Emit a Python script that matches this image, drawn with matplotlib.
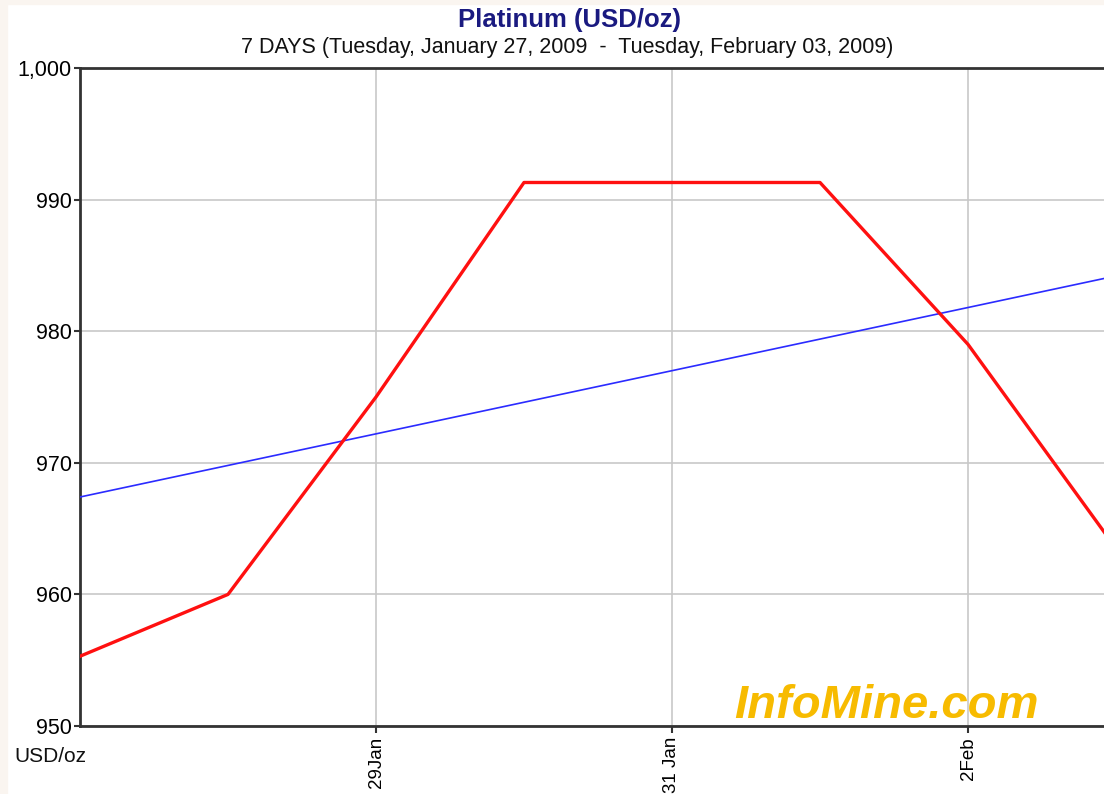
import numpy as np
import matplotlib.pyplot as plt
import matplotlib.dates as mdates
from matplotlib.ticker import FuncFormatter
from matplotlib.patches import Rectangle
from datetime import datetime

# daily platinum prices (USD/oz)
dates = ["2009-01-27", "2009-01-28", "2009-01-29", "2009-01-30",
         "2009-01-31", "2009-02-01", "2009-02-02", "2009-02-03"]
prices = [955.3, 960.0, 975.0, 991.3, 991.3, 991.3, 979.0, 963.5]

# trend line end points
trend_dates = ["2009-01-27", "2009-02-03"]
trend_vals = [967.4, 984.2]

tick_dates = ["2009-01-29", "2009-01-31", "2009-02-02"]
tick_labels = ["29Jan", "31 Jan", "2Feb"]

d = [datetime.strptime(s, "%Y-%m-%d") for s in dates]
td = [datetime.strptime(s, "%Y-%m-%d") for s in trend_dates]
xt = [datetime.strptime(s, "%Y-%m-%d") for s in tick_dates]

plt.rcParams['font.family'] = ['Liberation Sans', 'DejaVu Sans']

fig = plt.figure(figsize=(11.04, 7.94), dpi=100, facecolor='white')
# cream frame at the left and top edge
fig.patches.append(Rectangle((0, 0), 7/1104, 1, transform=fig.transFigure, color='#faf5f0', zorder=-1))
fig.patches.append(Rectangle((0, 1 - 4/794), 1, 4/794, transform=fig.transFigure, color='#faf5f0', zorder=-1))

ax = fig.add_axes([80/1104, 68/794, 1036/1104, 658/794])

ax.plot(td, trend_vals, color='#2b2bff', lw=1.2, zorder=3)
ax.plot(d, prices, color='#ff1010', lw=2.4, zorder=4)

ax.set_xlim(d[0], d[-1])
ax.set_ylim(950, 1000)
ax.set_yticks([950, 960, 970, 980, 990, 1000])
ax.yaxis.set_major_formatter(FuncFormatter(lambda v, p: f"{v:,.0f}"))
ax.set_xticks(xt)
ax.set_xticklabels(tick_labels, rotation=90, fontsize=13.5)
ax.tick_params(axis='y', labelsize=15.5, length=4, width=1.5, color='#333333', pad=2)
ax.tick_params(axis='x', length=5, width=1.5, color='#333333', pad=3)

ax.grid(True, color='#c8c8c8', lw=1.2)
ax.set_axisbelow(True)
for s in ['left', 'bottom', 'top']:
    ax.spines[s].set_color('#333333')
    ax.spines[s].set_linewidth(2)
ax.spines['right'].set_visible(False)

fig.text(569/1104, 1 - 20/794, "Platinum (USD/oz)", ha='center', va='center',
         fontsize=18.5, fontweight='bold', color='#1a1a80')
fig.text(567/1104, 1 - 48/794, "7 DAYS (Tuesday, January 27, 2009  -  Tuesday, February 03, 2009)",
         ha='center', va='center', fontsize=15.5, color='#111111')
fig.text(14/1104, 1 - 756/794, "USD/oz", ha='left', va='center', fontsize=15, color='#111111')

ax.text(0.925, 0.012, "InfoMine.com", transform=ax.transAxes, ha='right', va='baseline',
        fontsize=34, fontweight='bold', style='italic', color='#f7bb00', zorder=0.3)

fig.savefig("out.png", dpi=100, facecolor='white')
